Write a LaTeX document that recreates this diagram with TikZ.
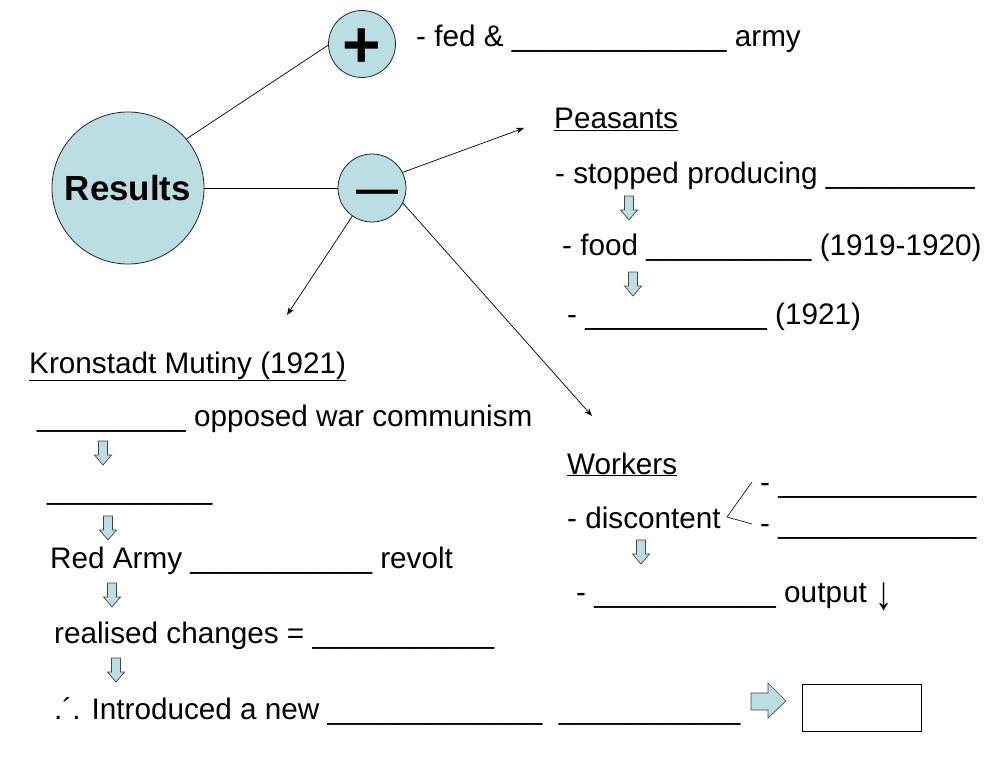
\documentclass[tikz,border=0pt]{standalone}
\usepackage{fontspec}
\setmainfont{Liberation Sans}
\usetikzlibrary{arrows.meta}
\definecolor{lblue}{RGB}{185,223,226}
\definecolor{edgegray}{RGB}{70,70,70}
\newcommand{\fsz}{\fontsize{29.7}{36}\selectfont}
\begin{document}
\begin{tikzpicture}[x=1pt,y=-1pt,
  txt/.style={anchor=base west,inner sep=0pt,font=\fsz},
  bub/.style={circle,draw=black!85,fill=lblue,inner sep=0pt,line width=0.8pt},
  conn/.style={line width=0.7pt},
  arr/.style={conn,-{Stealth[length=8pt,width=6pt]}},
  blockarr/.style={fill=lblue,draw=edgegray,line width=0.7pt},
  darr/.pic={\draw[blockarr] (-4.5,0) -- (4.5,0) -- (4.5,14) -- (8.5,14) -- (0,24) -- (-8.5,14) -- (-4.5,14) -- cycle;}]
\useasboundingbox (0,0) rectangle (1007,757);
% circles
\node[bub,minimum size=152pt,font=\fontsize{34.9}{40}\selectfont\bfseries] (res) at (128,188) {Results};
\node[bub,minimum size=67pt] (plus) at (362,44) {};
\node[inner sep=0pt,font=\fontsize{66}{70}\selectfont\bfseries] (plussym) at (362,48) {+};
\node[bub,minimum size=68pt] (minus) at (372,188) {};
\node[inner sep=0pt,font=\fontsize{42}{46}\selectfont\bfseries] (minussym) at (377,197) {—};
% connectors
\draw[conn] (res.40) -- (plus.182);
\draw[conn] (res.east) -- (minus.west);
\coordinate (peasTip) at (524,128);
\coordinate (kronTip) at (287,315);
\coordinate (workTip) at (592,416);
\draw[arr] (minus.27) -- (peasTip);
\draw[arr] (minus.235) -- (kronTip);
\draw[arr] (minus.334) -- (workTip);
% plus text
\node[txt] (fed) at (416,47) {- fed \& \_\_\_\_\_\_\_\_\_\_\_\_\_ army};
% peasants
\node[txt] (peas) at (554,129) {\underline{Peasants}};
\node[txt] (stop) at (555,183) {- stopped producing \_\_\_\_\_\_\_\_\_};
\node[txt] (food) at (562,255) {- food \_\_\_\_\_\_\_\_\_\_ (1919-1920)};
\node[txt] (fam) at (567,324) {- \_\_\_\_\_\_\_\_\_\_\_ (1921)};
\pic at (629,196) {darr};
\pic at (633,272) {darr};
% Kronstadt
\node[txt] (kron) at (29,373) {\underline{Kronstadt Mutiny (1921)}};
\node[txt] (opp) at (37,426) {\_\_\_\_\_\_\_\_\_ opposed war communism};
\node[txt] (bl) at (47,499) {\_\_\_\_\_\_\_\_\_\_};
\node[txt] (red) at (50,568) {Red Army \_\_\_\_\_\_\_\_\_\_\_ revolt};
\node[txt] (real) at (54,643) {realised changes = \_\_\_\_\_\_\_\_\_\_\_};
\node[txt] (intro) at (54,719) {.´. Introduced a new \_\_\_\_\_\_\_\_\_\_\_\_\_~~\_\_\_\_\_\_\_\_\_\_\_};
\pic at (103,441) {darr};
\pic at (108,516) {darr};
\pic at (112,583) {darr};
\pic at (116,658) {darr};
% final arrow and box
\draw[blockarr] (751,693) -- (768,693) -- (768,683) -- (786,701) -- (768,718) -- (768,710) -- (751,710) -- cycle;
\node[draw,line width=0.9pt,minimum width=119pt,minimum height=47pt,inner sep=0pt] (box) at (861.5,707.5) {};
% workers
\node[txt] (work) at (567,474) {\underline{Workers}};
\node[txt] (disc) at (567,528) {- discontent};
\node[txt] (d1) at (760,492) {- \_\_\_\_\_\_\_\_\_\_\_\_};
\node[txt] (d2) at (760,533) {- \_\_\_\_\_\_\_\_\_\_\_\_};
\coordinate (brV) at (727,517);
\coordinate (brA) at (752,482);
\coordinate (brB) at (752,524);
\draw[line width=0.6pt] (brA) -- (brV) -- (brB);
\pic at (641,540) {darr};
\node[txt] (out) at (576,602) {- \_\_\_\_\_\_\_\_\_\_\_ output \raisebox{-7pt}{\scalebox{1.15}[1.6]{↓}}};
\end{tikzpicture}
\end{document}
